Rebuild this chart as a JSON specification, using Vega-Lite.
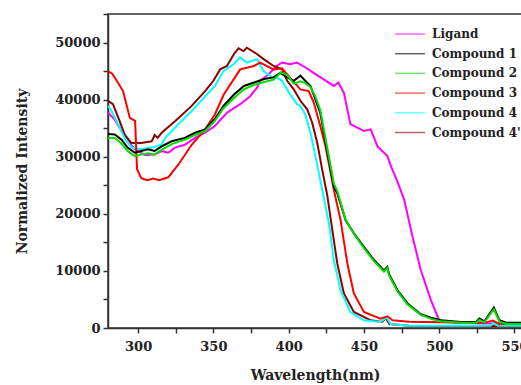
{
  "$schema": "https://vega.github.io/schema/vega-lite/v6.json",
  "autosize": {"type": "none"},
  "padding": {"left": 108, "top": 14, "right": 0, "bottom": 57},
  "width": 414,
  "height": 314,
  "background": "white",
  "config": {
    "view": {"stroke": "#333", "strokeWidth": 1.5},
    "font": "DejaVu Serif"
  },
  "datasets": {
    "spectra": [
      {"s": "Ligand", "w": 280, "v": 37700}, {"s": "Ligand", "w": 284.5, "v": 36500}, {"s": "Ligand", "w": 289, "v": 34500}, {"s": "Ligand", "w": 293.3, "v": 32700}, {"s": "Ligand", "w": 297.8, "v": 31300}, {"s": "Ligand", "w": 304.5, "v": 30300}, {"s": "Ligand", "w": 311, "v": 30400}, {"s": "Ligand", "w": 315.6, "v": 31000}, {"s": "Ligand", "w": 320, "v": 30700}, {"s": "Ligand", "w": 324.5, "v": 31600}, {"s": "Ligand", "w": 331, "v": 32100}, {"s": "Ligand", "w": 337.8, "v": 33300}, {"s": "Ligand", "w": 344.5, "v": 34200}, {"s": "Ligand", "w": 351, "v": 35400}, {"s": "Ligand", "w": 359, "v": 37700}, {"s": "Ligand", "w": 367.8, "v": 39200}, {"s": "Ligand", "w": 374.5, "v": 40600}, {"s": "Ligand", "w": 379, "v": 42100}, {"s": "Ligand", "w": 381, "v": 43300}, {"s": "Ligand", "w": 386.5, "v": 44400}, {"s": "Ligand", "w": 392, "v": 45900}, {"s": "Ligand", "w": 395.6, "v": 46500}, {"s": "Ligand", "w": 401, "v": 46200}, {"s": "Ligand", "w": 405.6, "v": 46500}, {"s": "Ligand", "w": 412, "v": 45500}, {"s": "Ligand", "w": 417, "v": 44600}, {"s": "Ligand", "w": 423, "v": 43600}, {"s": "Ligand", "w": 430, "v": 42400}, {"s": "Ligand", "w": 433, "v": 43000}, {"s": "Ligand", "w": 436.7, "v": 41200}, {"s": "Ligand", "w": 441, "v": 35700}, {"s": "Ligand", "w": 445.6, "v": 35100}, {"s": "Ligand", "w": 450, "v": 34500}, {"s": "Ligand", "w": 454.5, "v": 34800}, {"s": "Ligand", "w": 459, "v": 31800}, {"s": "Ligand", "w": 465.6, "v": 30100}, {"s": "Ligand", "w": 468, "v": 28300}, {"s": "Ligand", "w": 472, "v": 25800}, {"s": "Ligand", "w": 476.7, "v": 22500}, {"s": "Ligand", "w": 482.3, "v": 16000}, {"s": "Ligand", "w": 487.8, "v": 10100}, {"s": "Ligand", "w": 494.5, "v": 4900}, {"s": "Ligand", "w": 500, "v": 1350}, {"s": "Ligand", "w": 510, "v": 900}, {"s": "Ligand", "w": 530, "v": 800}, {"s": "Ligand", "w": 555, "v": 800},

      {"s": "Compound 4'", "w": 280, "v": 39800}, {"s": "Compound 4'", "w": 283.3, "v": 39200}, {"s": "Compound 4'", "w": 287.8, "v": 36200}, {"s": "Compound 4'", "w": 291, "v": 33900}, {"s": "Compound 4'", "w": 295.6, "v": 32400}, {"s": "Compound 4'", "w": 302, "v": 32400}, {"s": "Compound 4'", "w": 309, "v": 32700}, {"s": "Compound 4'", "w": 311, "v": 33800}, {"s": "Compound 4'", "w": 313, "v": 33300}, {"s": "Compound 4'", "w": 316, "v": 34300}, {"s": "Compound 4'", "w": 324.5, "v": 36200}, {"s": "Compound 4'", "w": 335.6, "v": 38900}, {"s": "Compound 4'", "w": 344.5, "v": 41500}, {"s": "Compound 4'", "w": 350, "v": 43300}, {"s": "Compound 4'", "w": 354.5, "v": 45300}, {"s": "Compound 4'", "w": 359, "v": 45900}, {"s": "Compound 4'", "w": 363.7, "v": 48000}, {"s": "Compound 4'", "w": 366.7, "v": 49000}, {"s": "Compound 4'", "w": 370, "v": 48500}, {"s": "Compound 4'", "w": 372.2, "v": 49100}, {"s": "Compound 4'", "w": 378.9, "v": 48000}, {"s": "Compound 4'", "w": 383.4, "v": 47100}, {"s": "Compound 4'", "w": 390, "v": 45900}, {"s": "Compound 4'", "w": 395.6, "v": 45300}, {"s": "Compound 4'", "w": 399, "v": 43300}, {"s": "Compound 4'", "w": 403.4, "v": 41800}, {"s": "Compound 4'", "w": 407.8, "v": 39800}, {"s": "Compound 4'", "w": 412.3, "v": 38300}, {"s": "Compound 4'", "w": 415.6, "v": 36000}, {"s": "Compound 4'", "w": 419, "v": 32400}, {"s": "Compound 4'", "w": 422.3, "v": 27700}, {"s": "Compound 4'", "w": 425.6, "v": 23300}, {"s": "Compound 4'", "w": 429, "v": 17200}, {"s": "Compound 4'", "w": 432.3, "v": 11300}, {"s": "Compound 4'", "w": 436.7, "v": 6050}, {"s": "Compound 4'", "w": 443.3, "v": 2800}, {"s": "Compound 4'", "w": 454.5, "v": 1350}, {"s": "Compound 4'", "w": 462, "v": 1050}, {"s": "Compound 4'", "w": 464.5, "v": 1700}, {"s": "Compound 4'", "w": 467, "v": 700}, {"s": "Compound 4'", "w": 480, "v": 400}, {"s": "Compound 4'", "w": 555, "v": 300},

      {"s": "Compound 4", "w": 280, "v": 38900}, {"s": "Compound 4", "w": 282.3, "v": 38000}, {"s": "Compound 4", "w": 286.7, "v": 35700}, {"s": "Compound 4", "w": 291, "v": 33300}, {"s": "Compound 4", "w": 295.6, "v": 31600}, {"s": "Compound 4", "w": 302, "v": 31300}, {"s": "Compound 4", "w": 309, "v": 31600}, {"s": "Compound 4", "w": 315.6, "v": 32100}, {"s": "Compound 4", "w": 318, "v": 33300}, {"s": "Compound 4", "w": 326.7, "v": 35700}, {"s": "Compound 4", "w": 335.6, "v": 38000}, {"s": "Compound 4", "w": 344.5, "v": 40600}, {"s": "Compound 4", "w": 351, "v": 42400}, {"s": "Compound 4", "w": 356.7, "v": 45000}, {"s": "Compound 4", "w": 363.4, "v": 46200}, {"s": "Compound 4", "w": 367.8, "v": 47400}, {"s": "Compound 4", "w": 372.3, "v": 46500}, {"s": "Compound 4", "w": 379, "v": 47100}, {"s": "Compound 4", "w": 383.4, "v": 45000}, {"s": "Compound 4", "w": 389, "v": 43900}, {"s": "Compound 4", "w": 392, "v": 43900}, {"s": "Compound 4", "w": 395.6, "v": 43300}, {"s": "Compound 4", "w": 401, "v": 40900}, {"s": "Compound 4", "w": 405.6, "v": 39200}, {"s": "Compound 4", "w": 407.8, "v": 38900}, {"s": "Compound 4", "w": 411, "v": 37400}, {"s": "Compound 4", "w": 414.5, "v": 34200}, {"s": "Compound 4", "w": 417.8, "v": 30100}, {"s": "Compound 4", "w": 422.3, "v": 24200}, {"s": "Compound 4", "w": 426.7, "v": 18400}, {"s": "Compound 4", "w": 430, "v": 11900}, {"s": "Compound 4", "w": 434.5, "v": 6600}, {"s": "Compound 4", "w": 441, "v": 2800}, {"s": "Compound 4", "w": 450, "v": 1350}, {"s": "Compound 4", "w": 461, "v": 1050}, {"s": "Compound 4", "w": 465, "v": 1830}, {"s": "Compound 4", "w": 467.8, "v": 700}, {"s": "Compound 4", "w": 480, "v": 400}, {"s": "Compound 4", "w": 534, "v": 400}, {"s": "Compound 4", "w": 536, "v": 900}, {"s": "Compound 4", "w": 539, "v": 400}, {"s": "Compound 4", "w": 555, "v": 400},

      {"s": "Compound 3", "w": 280, "v": 45000}, {"s": "Compound 3", "w": 283, "v": 44500}, {"s": "Compound 3", "w": 290, "v": 41500}, {"s": "Compound 3", "w": 294.5, "v": 36800}, {"s": "Compound 3", "w": 298, "v": 36300}, {"s": "Compound 3", "w": 299.3, "v": 27800}, {"s": "Compound 3", "w": 302, "v": 26300}, {"s": "Compound 3", "w": 306, "v": 25900}, {"s": "Compound 3", "w": 310, "v": 26200}, {"s": "Compound 3", "w": 314, "v": 25900}, {"s": "Compound 3", "w": 320, "v": 26400}, {"s": "Compound 3", "w": 326.7, "v": 28600}, {"s": "Compound 3", "w": 335.6, "v": 32100}, {"s": "Compound 3", "w": 344.5, "v": 34800}, {"s": "Compound 3", "w": 351, "v": 37400}, {"s": "Compound 3", "w": 356.9, "v": 40900}, {"s": "Compound 3", "w": 367.8, "v": 45300}, {"s": "Compound 3", "w": 376.9, "v": 45900}, {"s": "Compound 3", "w": 381, "v": 46500}, {"s": "Compound 3", "w": 390, "v": 45300}, {"s": "Compound 3", "w": 395.6, "v": 45500}, {"s": "Compound 3", "w": 401, "v": 43800}, {"s": "Compound 3", "w": 407.8, "v": 41800}, {"s": "Compound 3", "w": 413.3, "v": 41500}, {"s": "Compound 3", "w": 416.7, "v": 39500}, {"s": "Compound 3", "w": 421, "v": 35400}, {"s": "Compound 3", "w": 424.5, "v": 31800}, {"s": "Compound 3", "w": 430, "v": 24200}, {"s": "Compound 3", "w": 434.5, "v": 18900}, {"s": "Compound 3", "w": 439, "v": 11300}, {"s": "Compound 3", "w": 443.3, "v": 6050}, {"s": "Compound 3", "w": 450, "v": 2800}, {"s": "Compound 3", "w": 461, "v": 1650}, {"s": "Compound 3", "w": 465.6, "v": 2050}, {"s": "Compound 3", "w": 469, "v": 1350}, {"s": "Compound 3", "w": 480, "v": 1100}, {"s": "Compound 3", "w": 500, "v": 1000}, {"s": "Compound 3", "w": 530, "v": 900}, {"s": "Compound 3", "w": 535.6, "v": 1300}, {"s": "Compound 3", "w": 540, "v": 700}, {"s": "Compound 3", "w": 555, "v": 700},

      {"s": "Compound 1", "w": 280, "v": 34000}, {"s": "Compound 1", "w": 284.5, "v": 33900}, {"s": "Compound 1", "w": 289, "v": 33000}, {"s": "Compound 1", "w": 293, "v": 31600}, {"s": "Compound 1", "w": 297.8, "v": 30700}, {"s": "Compound 1", "w": 302, "v": 31000}, {"s": "Compound 1", "w": 306.7, "v": 31300}, {"s": "Compound 1", "w": 311, "v": 31000}, {"s": "Compound 1", "w": 315.6, "v": 31800}, {"s": "Compound 1", "w": 322.3, "v": 32700}, {"s": "Compound 1", "w": 331, "v": 33300}, {"s": "Compound 1", "w": 337.8, "v": 34200}, {"s": "Compound 1", "w": 344.5, "v": 34800}, {"s": "Compound 1", "w": 351, "v": 36600}, {"s": "Compound 1", "w": 356.7, "v": 38900}, {"s": "Compound 1", "w": 363.7, "v": 40900}, {"s": "Compound 1", "w": 370.3, "v": 42400}, {"s": "Compound 1", "w": 377, "v": 43000}, {"s": "Compound 1", "w": 383.7, "v": 43600}, {"s": "Compound 1", "w": 390, "v": 43900}, {"s": "Compound 1", "w": 394.5, "v": 44700}, {"s": "Compound 1", "w": 399, "v": 43900}, {"s": "Compound 1", "w": 403.4, "v": 43300}, {"s": "Compound 1", "w": 407.8, "v": 44200}, {"s": "Compound 1", "w": 411, "v": 43300}, {"s": "Compound 1", "w": 414.5, "v": 42400}, {"s": "Compound 1", "w": 417.8, "v": 40000}, {"s": "Compound 1", "w": 421, "v": 37700}, {"s": "Compound 1", "w": 423.4, "v": 34200}, {"s": "Compound 1", "w": 426.7, "v": 29500}, {"s": "Compound 1", "w": 430, "v": 24800}, {"s": "Compound 1", "w": 432.3, "v": 23600}, {"s": "Compound 1", "w": 437.8, "v": 18900}, {"s": "Compound 1", "w": 443.3, "v": 16600}, {"s": "Compound 1", "w": 450, "v": 14200}, {"s": "Compound 1", "w": 456.7, "v": 11900}, {"s": "Compound 1", "w": 463.3, "v": 10100}, {"s": "Compound 1", "w": 465.5, "v": 10700}, {"s": "Compound 1", "w": 466.7, "v": 9400}, {"s": "Compound 1", "w": 472.3, "v": 6600}, {"s": "Compound 1", "w": 479, "v": 4300}, {"s": "Compound 1", "w": 487.8, "v": 2400}, {"s": "Compound 1", "w": 494.5, "v": 1800}, {"s": "Compound 1", "w": 501, "v": 1350}, {"s": "Compound 1", "w": 514.5, "v": 1050}, {"s": "Compound 1", "w": 524.5, "v": 1050}, {"s": "Compound 1", "w": 526.7, "v": 1650}, {"s": "Compound 1", "w": 530, "v": 1180}, {"s": "Compound 1", "w": 536.3, "v": 3600}, {"s": "Compound 1", "w": 540, "v": 1350}, {"s": "Compound 1", "w": 545, "v": 900}, {"s": "Compound 1", "w": 555, "v": 900},

      {"s": "Compound 2", "w": 280, "v": 33300}, {"s": "Compound 2", "w": 284.5, "v": 33300}, {"s": "Compound 2", "w": 289, "v": 32300}, {"s": "Compound 2", "w": 293, "v": 31000}, {"s": "Compound 2", "w": 297.8, "v": 30100}, {"s": "Compound 2", "w": 302, "v": 30400}, {"s": "Compound 2", "w": 306.7, "v": 30600}, {"s": "Compound 2", "w": 311, "v": 30400}, {"s": "Compound 2", "w": 315.6, "v": 31200}, {"s": "Compound 2", "w": 322.3, "v": 32200}, {"s": "Compound 2", "w": 331, "v": 33000}, {"s": "Compound 2", "w": 337.8, "v": 33800}, {"s": "Compound 2", "w": 344.5, "v": 34500}, {"s": "Compound 2", "w": 351, "v": 36300}, {"s": "Compound 2", "w": 356.7, "v": 38500}, {"s": "Compound 2", "w": 363.7, "v": 40300}, {"s": "Compound 2", "w": 370.3, "v": 41800}, {"s": "Compound 2", "w": 377, "v": 42600}, {"s": "Compound 2", "w": 383.7, "v": 43100}, {"s": "Compound 2", "w": 390, "v": 43500}, {"s": "Compound 2", "w": 395, "v": 44800}, {"s": "Compound 2", "w": 399, "v": 44300}, {"s": "Compound 2", "w": 403.4, "v": 42800}, {"s": "Compound 2", "w": 407.8, "v": 43200}, {"s": "Compound 2", "w": 411, "v": 42900}, {"s": "Compound 2", "w": 414.5, "v": 42200}, {"s": "Compound 2", "w": 417.8, "v": 40500}, {"s": "Compound 2", "w": 421, "v": 38200}, {"s": "Compound 2", "w": 423.4, "v": 34800}, {"s": "Compound 2", "w": 426.7, "v": 30000}, {"s": "Compound 2", "w": 430, "v": 25300}, {"s": "Compound 2", "w": 432.3, "v": 24000}, {"s": "Compound 2", "w": 437.8, "v": 19000}, {"s": "Compound 2", "w": 443.3, "v": 16500}, {"s": "Compound 2", "w": 450, "v": 14000}, {"s": "Compound 2", "w": 456.7, "v": 11700}, {"s": "Compound 2", "w": 463.3, "v": 9900}, {"s": "Compound 2", "w": 465.5, "v": 10500}, {"s": "Compound 2", "w": 466.7, "v": 9200}, {"s": "Compound 2", "w": 472.3, "v": 6400}, {"s": "Compound 2", "w": 479, "v": 4100}, {"s": "Compound 2", "w": 487.8, "v": 2300}, {"s": "Compound 2", "w": 494.5, "v": 1600}, {"s": "Compound 2", "w": 501, "v": 1200}, {"s": "Compound 2", "w": 514.5, "v": 900}, {"s": "Compound 2", "w": 524.5, "v": 900}, {"s": "Compound 2", "w": 526.7, "v": 1400}, {"s": "Compound 2", "w": 530, "v": 1000}, {"s": "Compound 2", "w": 536.3, "v": 3300}, {"s": "Compound 2", "w": 540, "v": 1100}, {"s": "Compound 2", "w": 545, "v": 700}, {"s": "Compound 2", "w": 555, "v": 700}
    ]
  },
  "data": {"name": "spectra"},
  "mark": {"type": "line", "strokeWidth": 2, "clip": true},
  "encoding": {
    "x": {
      "field": "w", "type": "quantitative",
      "scale": {"domain": [280, 555], "nice": false, "zero": false},
      "axis": {
        "title": "Wavelength(nm)",
        "values": [300, 325, 350, 375, 400, 425, 450, 475, 500, 525, 550],
        "labelExpr": "datum.value % 50 == 0 ? datum.label : ''",
        "grid": false, "domainColor": "#333", "domainWidth": 1.5,
        "tickColor": "#333", "tickWidth": 1.5, "tickSize": 5,
        "labelFont": "DejaVu Serif", "labelFontWeight": "bold", "labelFontSize": 13, "labelColor": "#222",
        "labelPadding": 7, "labelFlush": false, "labelOverlap": false,
        "titleFont": "DejaVu Serif", "titleFontWeight": "bold", "titleFontSize": 14, "titleColor": "#222",
        "titlePadding": 15
      }
    },
    "y": {
      "field": "v", "type": "quantitative",
      "scale": {"domain": [0, 55000], "nice": false},
      "axis": {
        "title": "Normalized Intensity",
        "values": [0, 5000, 10000, 15000, 20000, 25000, 30000, 35000, 40000, 45000, 50000, 55000],
        "labelExpr": "datum.value % 10000 == 0 ? format(datum.value, 'd') : ''",
        "grid": false, "domainColor": "#333", "domainWidth": 1.5,
        "tickColor": "#333", "tickWidth": 1.5, "tickSize": 5,
        "labelFont": "DejaVu Serif", "labelFontWeight": "bold", "labelFontSize": 13, "labelColor": "#222",
        "labelPadding": 3, "labelFlush": false, "labelOverlap": false,
        "titleFont": "DejaVu Serif", "titleFontWeight": "bold", "titleFontSize": 14, "titleColor": "#222",
        "titlePadding": 25
      }
    },
    "color": {
      "field": "s", "type": "nominal",
      "scale": {
        "domain": ["Ligand", "Compound 1", "Compound 2", "Compound 3", "Compound 4", "Compound 4'"],
        "range": ["#ff00ff", "#000000", "#00dd00", "#ff0000", "#00ffff", "#8b0000"]
      },
      "legend": {
        "title": null, "orient": "none", "legendX": 291, "legendY": 9,
        "symbolType": "M-1.5,0H1.5", "symbolSize": 400, "symbolStrokeWidth": 1.5, "symbolOpacity": 0.6,
        "labelFont": "DejaVu Serif", "labelFontWeight": "bold", "labelFontSize": 12, "labelColor": "#222",
        "labelOffset": 11, "rowPadding": 2.7, "labelLimit": 200
      }
    },
    "order": {"field": "s"}
  }
}
